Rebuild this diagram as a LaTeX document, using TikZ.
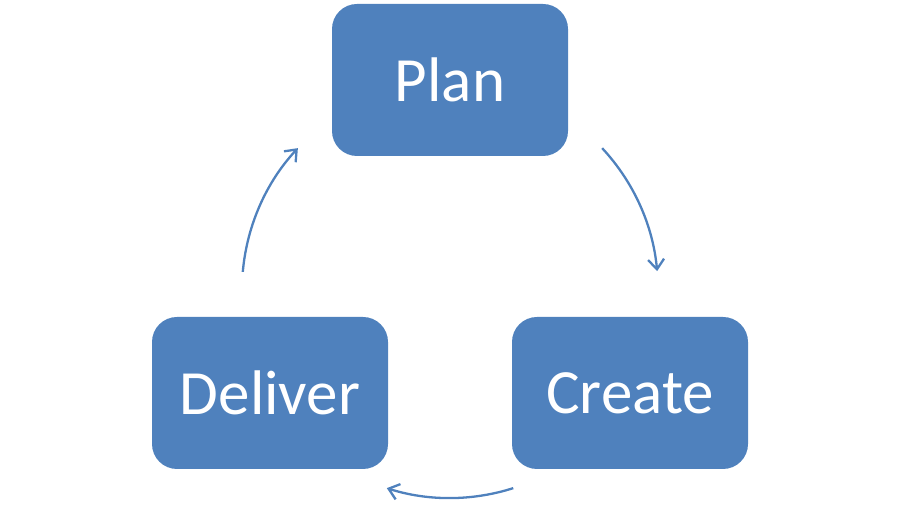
\documentclass[tikz,border=0pt]{standalone}
\usepackage{fontspec}
\setmainfont{Carlito}
\usetikzlibrary{arrows.meta,calc}
\definecolor{boxblue}{HTML}{4F81BD}
\tikzset{
  stagebox/.style={draw=none, fill=boxblue, rounded corners=25pt, minimum width=236pt, minimum height=152pt, text=white, font=\fontsize{63}{70}\selectfont, inner sep=0pt},
  cyclearrow/.style={draw=boxblue, line width=2.3pt, -{Straight Barb[length=10pt,width=16pt,line width=2.3pt]}}
}
\begin{document}
\begin{tikzpicture}[x=1pt,y=1pt]
\useasboundingbox (0,0) rectangle (900,527);
\node[stagebox] (plan) at (450,447) {Plan};
\node[stagebox] (deliver) at (270,134) {Deliver};
\node[stagebox] (create) at (630,134) {Create};
\coordinate (ctr) at (450,237);
\coordinate (a1) at ($(ctr)+(43:208pt)$);
\coordinate (a2) at ($(ctr)+(-72.3:208pt)$);
\coordinate (a3) at ($(ctr)+(175:208pt)$);
\draw[cyclearrow] (a1) arc[start angle=43, end angle=5.2, radius=208pt];
\draw[cyclearrow] (a2) arc[start angle=-72.3, end angle=-107.7, radius=208pt];
\draw[cyclearrow] (a3) arc[start angle=175, end angle=137, radius=208pt];
\end{tikzpicture}
\end{document}
